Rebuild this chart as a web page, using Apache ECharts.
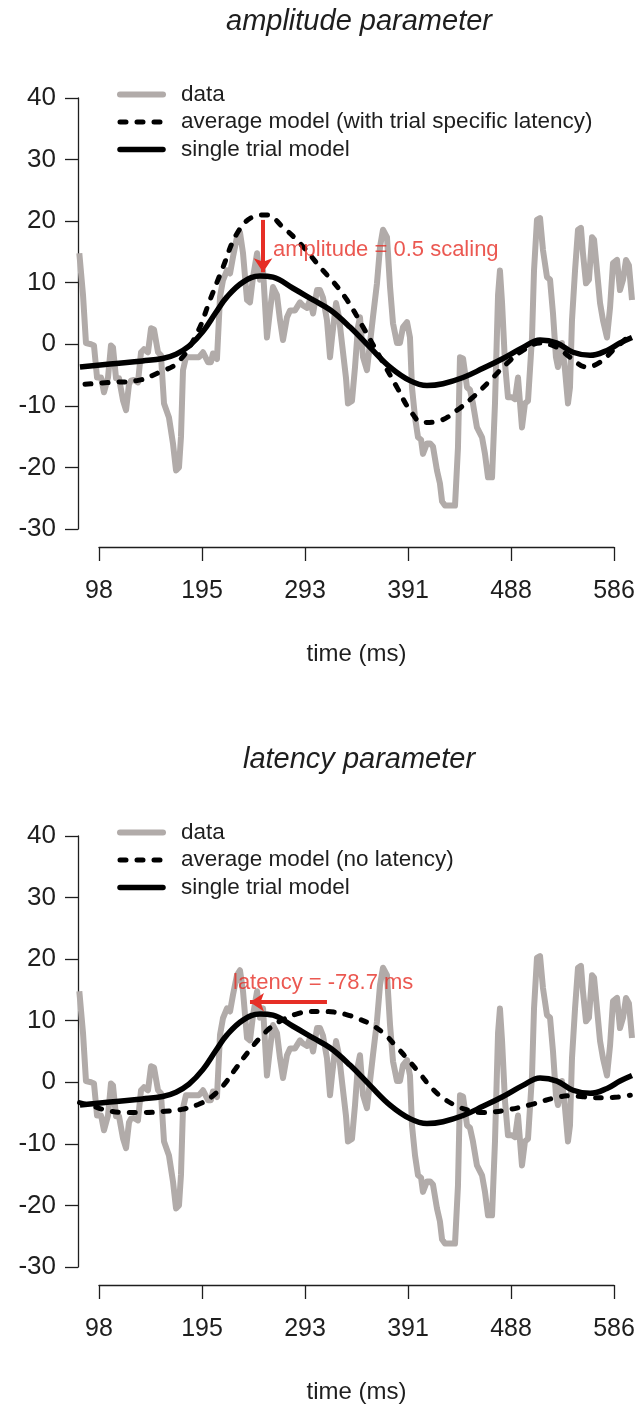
<!DOCTYPE html>
<html>
<head>
<meta charset="utf-8">
<title>amplitude / latency parameter</title>
<script src="https://cdn.jsdelivr.net/npm/echarts@6.0.0/dist/echarts.min.js"></script>
<style>
  html, body { margin: 0; padding: 0; background: #fff; }
  #chart { width: 641px; height: 1405px; }
</style>
</head>
<body>
<div id="chart"></div>
<script>
// ---- data (time in ms, amplitude in µV) ----
var dataTime = [79,82.5,85.3,90.1,92.9,95.8,99.6,102.4,106.2,109,
  110.9,113.8,116.6,120.4,123.3,126.1,128,130.8,134.6,137.5,
  140.3,144.1,147,149.8,153.6,156.4,159.3,164,167.8,170.7,
  173.5,175.4,177.3,180.1,186.8,192.5,196.3,201,203.8,205.7,
  209.5,212.4,215.2,219,221.9,224.7,228.5,231.3,234.2,238,
  240.8,243.7,247.5,250.3,253.2,256.9,259.8,262.6,266.4,269.3,
  272.1,275.9,278.8,283.5,288.2,291.1,294.9,297.7,300.6,304.4,
  307.2,310,313.8,316.7,318.6,322.4,325.2,328,331.8,333.7,
  337.5,340.4,343.2,345.1,348,351.7,354.6,357.4,361.2,364.1,
  366.9,370.7,373.6,376.4,380.2,383,385.9,389.7,392.5,394.4,
  397.3,400.1,403,404.8,408.6,411.5,414.3,418.1,420.9,422.9,
  425.7,430.4,435.2,438,439.9,442.8,446.6,449.4,452.2,456,
  460.8,463.6,466.5,470.3,473.1,476,477.8,479.8,482.6,485.4,
  489.2,492.1,494.9,498.7,501.5,504.4,508.2,510.1,512.9,515.8,
  518.6,522.4,525.3,528.1,530.9,532.8,536.6,539.5,542.3,544.2,
  546.1,549,551.8,554.6,556.5,559.4,562.2,565.1,567,569.8,
  572.7,575.5,579.3,582.2,585,588.8,591.6,594.5,597.3,600.1,
  603];
var dataValues = [14.8,8,0.2,0,-0.2,-5.4,-5.4,-7.8,-5.4,-0.2,
  -0.5,-5.5,-5.5,-9.1,-10.7,-6.5,-5.9,-5.8,-6.2,-1.3,
  -0.8,-1.3,2.6,2.4,-1.3,-1.8,-9.6,-11.9,-16.1,-20.5,
  -20,-15,-4.2,-2.1,-2.1,-2.1,-1.3,-2.9,-2.9,-1.5,
  -2.4,7.7,10.4,12,11.5,14.2,17.4,18.2,14.8,7.2,
  6.8,10.9,14.8,10.5,12,1.1,5.5,9.3,8,3.9,
  0.7,4.4,5.5,5.5,6.8,6.3,5.9,7.2,5,8.8,
  8.8,7.6,3.9,-2.1,1.1,6.7,4.4,0.2,-5.4,-9.6,
  -9.2,-3.7,2.8,4.4,-2.1,-4.2,0.2,4.4,9.9,15.8,
  18.6,17.4,9.3,3.4,0.2,0.2,2.8,3.6,1.1,-7,
  -11.9,-15.1,-15.5,-17.8,-16.1,-16.1,-16.6,-20.5,-22.6,-25.5,
  -26.2,-26.2,-26.2,-16.8,-2.1,-2.3,-7,-7.4,-9.6,-13.5,
  -15.1,-17.8,-21.6,-21.6,-9.6,8,12,6.7,-3.1,-8.6,
  -8.6,-8.9,-5.4,-13.5,-9.6,-9.2,1.1,12,20.2,20.5,
  15.3,10.9,10.5,5,-2.1,-3.7,0.2,-4.2,-9.6,-7,
  3.9,12,18.6,18.9,14.8,9.9,10.5,17.4,17,12,
  6.7,3.9,1.1,6,13.2,13.7,8.8,10.5,13.7,12.8,
  7.2];

var singleTime = [79.6,108,139,158,170.7,183,196.3,208.6,219,234.2,250.3,262.6,281.6,300.6,316.7,
  335.6,354.6,373.6,392.5,408.6,423.8,442.8,461.7,480.7,499.6,515.8,531.9,547.1,563.2,579.3,591.6,603];
var singleValues = [-3.7,-3.2,-2.7,-2.3,-1.6,-0.3,2.1,5.2,7.7,10.1,11.1,10.9,9.1,7.2,5.6,
  2.8,-0.5,-3.7,-5.9,-6.7,-6.4,-5.4,-3.9,-2.3,-0.5,0.7,0.2,-1.3,-1.8,-1.0,0.2,1.1];

// average model shifted by the trial specific latency (upper panel)
var avgLatencyTime = [84.4,108.1,133.7,155.5,172.6,190.6,202.9,215.2,228.5,243.7,256.9,272.1,288.2,310,319.5,
  332.8,348,364.1,380.2,392.5,404.8,420.9,437.1,452.2,468.4,484.5,499.6,515.8,531.9,544.2,560.3,572.7,585,601.1];
var avgLatencyValues = [-6.5,-6.2,-5.9,-4.5,-2.9,1.8,7.2,12.5,18,20.7,21,19,16.4,12,10.2,
  7.2,2.8,-2.1,-7,-10.7,-12.7,-12.4,-10.7,-8.6,-5.9,-3.1,-1,0.2,-0.5,-2.1,-3.7,-2.9,-1,1.5];

// average model without latency (lower panel)
var avgPlainTime = [79.2,90.3,105.8,121.5,141,160.4,176.1,191.7,203.4,215.1,226.8,238.5,250.2,261.9,273.6,
  285.3,297,308.7,320.5,332.1,343.9,355.5,367.3,379,390.6,402.4,414,425.8,437.5,449.2,
  460.9,472.6,484.3,496,507.7,519.4,531.1,542.8,554.5,566.2,578,589.6,601.4];
var avgPlainValues = [-3.3,-3.8,-4.6,-4.9,-4.9,-4.7,-4.4,-3.6,-2.5,-0.6,2.1,4.8,7.2,9.1,10.3,
  11.1,11.5,11.5,11.4,11,10.3,9.4,8,5.9,3.7,1.3,-1.1,-2.8,-3.9,-4.6,
  -4.9,-4.8,-4.5,-4.1,-3.6,-3,-2.5,-2.2,-2.3,-2.5,-2.5,-2.4,-2.1];

var timeTicks = [97.65625, 585.9375, 97.65625];   // first tick, last tick, step
var yTicks = [-30, 40, 10];                        // min, max, step

// annotations: arrow [from, to] and text anchor, in data coordinates
var amplitudeArrow = [[253.2, 20.2], [253.2, 11.7]];
var amplitudeNote = [262.6, 15.3];
var latencyArrow = [[313.8, 13.0], [240.8, 13.0]];
var latencyNote = [224.7, 16.1];

// ---- styling ----
var FONT = '"Liberation Sans", Arial, Helvetica, sans-serif';
var INK = '#1e1e1e';
var GRAY = '#b1aba9';
var RED = '#e62e26';
var DASH = [6, 11];

function pairs(xs, ys) {
  return xs.map(function (x, i) { return [x, ys[i]]; });
}

var panels = [
  { off: 0, title: 'amplitude parameter',
    avgName: 'average model (with trial specific latency)',
    avg: pairs(avgLatencyTime, avgLatencyValues),
    arrow: amplitudeArrow, note: amplitudeNote, noteText: 'amplitude = 0.5 scaling' },
  { off: 738, title: 'latency parameter',
    avgName: 'average model (no latency)',
    avg: pairs(avgPlainTime, avgPlainValues),
    arrow: latencyArrow, note: latencyNote, noteText: 'latency = -78.7 ms' }
];

var dataPairs = pairs(dataTime, dataValues);
var singlePairs = pairs(singleTime, singleValues);

var grid = [], xAxis = [], yAxis = [], series = [], legend = [], graphic = [];

panels.forEach(function (p, k) {
  var gData = k * 2, gAxis = k * 2 + 1;
  grid.push({ left: 78, right: 9, top: 98 + p.off, height: 431 });
  grid.push({ left: 99, right: 27, top: 546 + p.off, height: 1 });

  xAxis.push({ type: 'value', gridIndex: gData, min: 77.75, max: 603, show: false });
  xAxis.push({
    type: 'value', gridIndex: gAxis, position: 'bottom',
    min: timeTicks[0], max: timeTicks[1], interval: timeTicks[2],
    axisLine: { show: true, lineStyle: { color: INK, width: 1.3 } },
    axisTick: { show: true, length: 14, lineStyle: { color: INK, width: 1.3 } },
    axisLabel: { margin: 32, fontSize: 25, color: INK, fontFamily: FONT,
      formatter: function (v) { return Math.round(v); } },
    splitLine: { show: false },
    name: 'time (ms)', nameLocation: 'middle', nameGap: 95,
    nameTextStyle: { fontSize: 24, color: INK, fontFamily: FONT }
  });

  yAxis.push({
    type: 'value', gridIndex: gData, min: yTicks[0], max: yTicks[1], interval: yTicks[2],
    axisLine: { show: true, lineStyle: { color: INK, width: 1.3 } },
    axisTick: { show: true, length: 13, lineStyle: { color: INK, width: 1.3 } },
    axisLabel: { margin: 22, fontSize: 26, color: INK, fontFamily: FONT },
    splitLine: { show: false }
  });
  yAxis.push({ type: 'value', gridIndex: gAxis, min: 0, max: 1, show: false });

  series.push({
    type: 'line', name: 'data', xAxisIndex: gData, yAxisIndex: gData,
    data: dataPairs, symbol: 'none', showSymbol: false,
    lineStyle: { color: GRAY, width: 6, join: 'round' }, itemStyle: { color: GRAY }, z: 2
  });
  series.push({
    type: 'line', name: p.avgName, xAxisIndex: gData, yAxisIndex: gData,
    data: p.avg, smooth: 0.4, symbol: 'none', showSymbol: false,
    lineStyle: { color: '#000', width: 5, type: DASH, cap: 'round' },
    itemStyle: { color: '#000' }, z: 3
  });
  series.push({
    type: 'line', name: 'single trial model', xAxisIndex: gData, yAxisIndex: gData,
    data: singlePairs, smooth: 0.4, symbol: 'none', showSymbol: false,
    lineStyle: { color: '#000', width: 5.5 }, itemStyle: { color: '#000' }, z: 4
  });
  series.push({
    type: 'lines', coordinateSystem: 'cartesian2d', xAxisIndex: gData, yAxisIndex: gData,
    data: [{ coords: p.arrow }], symbol: ['none', 'arrow'], symbolSize: 14,
    lineStyle: { color: RED, width: 4, opacity: 1, curveness: 0 }, z: 6, silent: true
  });
  series.push({
    type: 'scatter', xAxisIndex: gData, yAxisIndex: gData,
    data: [p.note], symbolSize: 0, silent: true, z: 7,
    label: { show: true, position: 'right', distance: 0, formatter: p.noteText,
      color: RED, fontSize: 22, fontFamily: FONT }
  });

  legend.push({
    left: 117, top: 83 + p.off, orient: 'vertical', padding: 0,
    itemWidth: 43, itemHeight: 14, itemGap: 4.5, selectedMode: false,
    itemStyle: { opacity: 0 },
    data: [
      { name: 'data', lineStyle: { color: GRAY, width: 6, type: 'solid', cap: 'round' } },
      { name: p.avgName, lineStyle: { color: '#000', width: 5, type: DASH, cap: 'round' } },
      { name: 'single trial model', lineStyle: { color: '#000', width: 5.5, type: 'solid', cap: 'round' } }
    ],
    textStyle: { fontSize: 22.5, color: INK, fontFamily: FONT, lineHeight: 22, padding: [0, 0, 0, 13] }
  });

  graphic.push({
    type: 'text', x: 359, y: 22 + p.off,
    style: { text: p.title, fill: INK, font: 'italic 29px ' + FONT,
      textAlign: 'center', textVerticalAlign: 'middle' }
  });
});

var chart = echarts.init(document.getElementById('chart'));
chart.setOption({
  animation: false,
  backgroundColor: '#fff',
  grid: grid,
  xAxis: xAxis,
  yAxis: yAxis,
  legend: legend,
  graphic: graphic,
  series: series
});
</script>
</body>
</html>
